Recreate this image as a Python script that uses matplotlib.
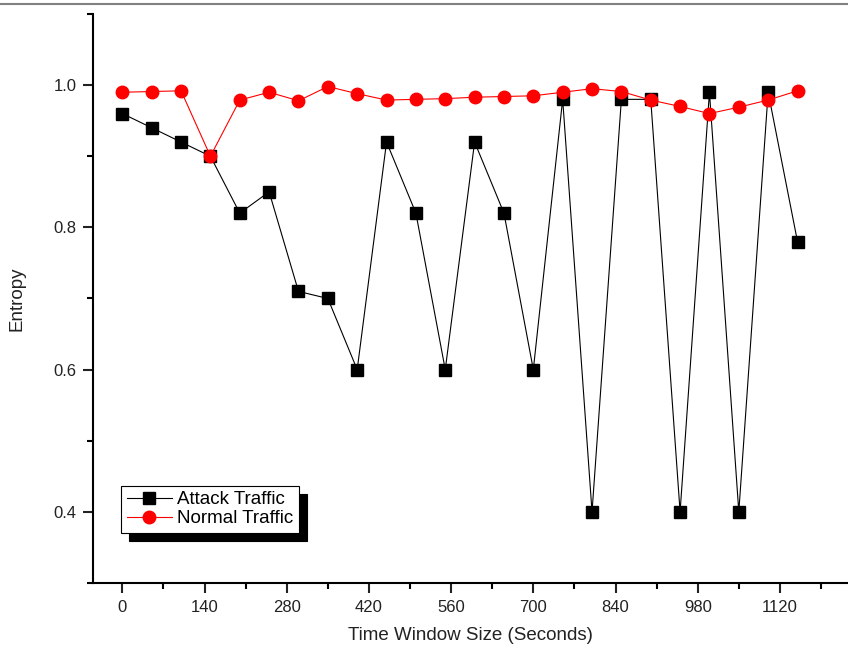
import matplotlib
matplotlib.use("Agg")
import matplotlib.pyplot as plt
from matplotlib.lines import Line2D
from matplotlib.patches import Shadow
from matplotlib.ticker import MultipleLocator

plt.rcParams['font.family'] = ['Liberation Sans', 'DejaVu Sans']

# Time window sizes (seconds)
window = [0, 50, 100, 150, 200, 250, 300, 350, 400, 450, 500, 550,
          600, 650, 700, 750, 800, 850, 900, 950, 1000, 1050, 1100, 1150]

attack = [0.96, 0.94, 0.92, 0.90, 0.82, 0.85, 0.71, 0.70, 0.60, 0.92, 0.82, 0.60,
          0.92, 0.82, 0.60, 0.98, 0.40, 0.98, 0.98, 0.40, 0.99, 0.40, 0.99, 0.78]

normal = [0.990, 0.991, 0.992, 0.900, 0.979, 0.990, 0.978, 0.998, 0.988, 0.979, 0.980, 0.981,
          0.983, 0.984, 0.985, 0.990, 0.995, 0.991, 0.979, 0.970, 0.960, 0.969, 0.979, 0.992]

x_major = [0, 140, 280, 420, 560, 700, 840, 980, 1120]

fig = plt.figure(figsize=(8.48, 6.54), dpi=100)
ax = fig.add_axes([93 / 848, 1 - 583 / 654, 1 - 93 / 848, (583 - 14) / 654])

ax.plot(window, attack, color="black", linewidth=0.8, marker="s",
        markersize=8, markerfacecolor="black", markeredgecolor="black",
        label="Attack Traffic", zorder=3)
ax.plot(window, normal, color="red", linewidth=0.8, marker="o",
        markersize=9, markerfacecolor="red", markeredgecolor="red",
        label="Normal Traffic", zorder=4)

ax.set_xlim(-50, 1236)
ax.set_ylim(0.3, 1.1)
ax.set_xticks(x_major)
ax.xaxis.set_minor_locator(MultipleLocator(70))
ax.set_yticks([0.4, 0.6, 0.8, 1.0])
ax.set_yticklabels(["0.4", "0.6", "0.8", "1.0"])
ax.yaxis.set_minor_locator(MultipleLocator(0.1))

for side in ("top", "right"):
    ax.spines[side].set_visible(False)
for side in ("left", "bottom"):
    ax.spines[side].set_linewidth(1.5)

ax.tick_params(which="major", direction="out", length=7, width=1.5,
               labelsize=12, pad=5, colors="#222222")
ax.tick_params(which="minor", direction="out", length=4.5, width=1.5)

ax.set_xlabel("Time Window Size (Seconds)", fontsize=13.5, labelpad=9,
              color="#222222")
ax.set_ylabel("Entropy", fontsize=13.5, labelpad=20, color="#222222")

leg = ax.legend(loc="lower left", bbox_to_anchor=(0.037, 0.088),
                borderaxespad=0, fontsize=13.5, fancybox=False, framealpha=1,
                edgecolor="black", handlelength=2.4, handletextpad=0.3,
                borderpad=0.3, labelspacing=0.1)
leg.get_frame().set_linewidth(0.8)

# gray border line along the top of the figure
fig.add_artist(Line2D([0, 1], [1 - 4 / 654, 1 - 4 / 654], color="#808080",
                      linewidth=1.5, transform=fig.transFigure))

fig.canvas.draw()
shadow = Shadow(leg.legendPatch, 6, -6, color="black", alpha=1)
shadow.set_zorder(4.9)
ax.add_artist(shadow)
shadow.set_clip_on(False)

fig.savefig("out.png", dpi=100)
